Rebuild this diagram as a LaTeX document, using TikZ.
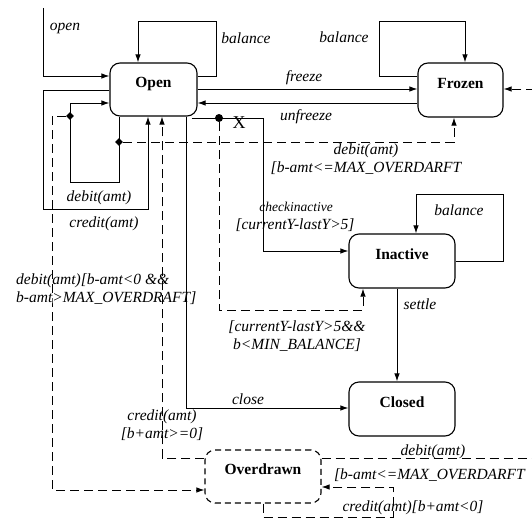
\documentclass[tikz,border=0pt]{standalone}
\usepackage{fontspec}
\setmainfont{Liberation Serif}
\usetikzlibrary{arrows.meta,shapes.geometric,calc}
\begin{document}
\begin{tikzpicture}[x=1pt,y=-1pt,
  state/.style={draw, line width=1.1pt, rounded corners=10pt, inner sep=0pt,
    font=\fontsize{15.5}{18}\selectfont\bfseries, text height=10pt, text depth=14pt},
  conn/.style={line width=1pt},
  arr/.style={conn, -{Latex[length=8pt,width=5.5pt]}},
  darr/.style={arr, dash pattern=on 9pt off 5pt},
  lbl/.style={font=\fontsize{15.5}{18}\selectfont\itshape, inner sep=0pt, text height=11pt, text depth=3.5pt},
  lbltwo/.style={font=\fontsize{15.5}{18}\selectfont\itshape, inner sep=0pt},
  choice/.style={diamond, fill, inner sep=0pt, minimum size=8pt},
  junction/.style={circle, fill, inner sep=0pt, minimum size=8pt}]
\useasboundingbox (0,0) rectangle (532,519);

% states
\node[state, minimum width=87pt, minimum height=53pt] (open) at (153.5,89.5) {Open};
\node[state, minimum width=85pt, minimum height=54pt] (frozen) at (460.5,90) {Frozen};
\node[state, minimum width=106pt, minimum height=54pt] (inactive) at (402,261) {Inactive};
\node[state, minimum width=106pt, minimum height=54pt] (closed) at (402,409) {Closed};
\node[state, dash pattern=on 6pt off 4pt, minimum width=116pt, minimum height=53pt] (overdrawn) at (263,476.5) {Overdrawn};

% choice points
\node[choice] (c1) at (119,142) {};
\node[choice] (c2) at (70,116) {};
\node[junction] (jx) at (219,118) {};
\node[font=\fontsize{18}{20}\selectfont, inner sep=0pt] (xl) at (239,122.5) {X};

% free ends
\coordinate (init) at (43,8);
\coordinate (e1) at (545,458);
\coordinate (e2) at (545,89);

% initial
\draw[arr] (init) |- (open.west |- 0,76);
\node[lbl] (lopen) at (65,27) {open};

% Open self loop
\draw[arr] (open.east |- 0,76) -| (216,22) -| (open.north -| 138,0);
\node[lbl] (lbal1) at (246,40) {balance};

% freeze / unfreeze
\draw[arr] (open.east |- 0,89) -- (frozen.west |- 0,89);
\node[lbl] (lfreeze) at (304,78) {freeze};
\draw[arr] (frozen.west |- 0,103) -- (open.east |- 0,103);
\node[lbl] (lunfreeze) at (306,117) {unfreeze};

% Frozen self loop
\draw[arr] (frozen.west |- 0,76) -| (379,22) -| (frozen.north -| 465,0);
\node[lbl] (lbal2) at (344,39) {balance};

% debit loop (inner)
\draw[arr] (open.south -| 119,0) |- (70,182) |- (open.west |- 0,103);
\node[lbl] (ldebit) at (99,198) {debit(amt)};
% credit loop (outer)
\draw[arr] (open.west |- 0,90) -| (43,209) -| (open.south -| 148,0);
\node[lbl] (lcredit) at (104,224) {credit(amt)};

% c1 -> Frozen
\draw[darr] (c1) -| (frozen.south -| 454,0);
\node[lbltwo, align=center] (ldebfz) at (366,159) {debit(amt)\\{[}b-amt\textless=MAX\_OVERDARFT};

% c2 -> Overdrawn
\draw[darr] (c2) -| (52,300) |- (overdrawn.west |- 0,490);
\node[lbltwo, align=left, anchor=west] (ldebod) at (16,289.5) {debit(amt){[}b-amt\textless0 \&\&\\b-amt\textgreater MAX\_OVERDRAFT{]}};

% Overdrawn -> Open
\draw[darr] (overdrawn.west |- 0,458) -| (open.south -| 162,0);
\node[lbltwo, align=center] (lcredod) at (162,425) {credit(amt)\\{[}b+amt\textgreater=0{]}};

% Open -> Inactive
\draw[arr] ($(open.south east)+(-6,2)$) -| (263,251) -- (inactive.west |- 0,251);
\node[lbl, font=\fontsize{13.5}{16}\selectfont\itshape] (lchk) at (296,208) {checkinactive};
\node[lbl] (lchk2) at (295,226) {{[}currentY-lastY\textgreater5{]}};

% junction -> Inactive
\draw[darr] (jx) |- (363,310) -- (inactive.south -| 363,0);
\node[lbltwo, align=center] (lmin) at (297,336.5) {{[}currentY-lastY\textgreater5\&\&\\b\textless MIN\_BALANCE{]}};

% Inactive self loop
\draw[arr] (inactive.east |- 0,261) -| (503,194) -| (inactive.north -| 416,0);
\node[lbl] (lbal3) at (459,212) {balance};

% settle
\draw[arr] (inactive.south -| 397,0) -- (closed.north -| 397,0);
\node[lbl] (lsettle) at (420,306) {settle};

% close
\draw[arr] (open.south -| 186,0) |- (closed.west |- 0,408);
\node[lbl] (lclose) at (248,401) {close};

% Overdrawn -> Frozen
\draw[darr] (overdrawn.east |- 0,458) -- (e1) -- (e2) -- (frozen.east |- 0,89);
\node[lbl] (ldeb3) at (433,452) {debit(amt)};
\node[lbl, anchor=west] (lmax3) at (334,476) {{[}b-amt\textless=MAX\_OVERDARFT};

% Overdrawn self loop
\draw[darr] (overdrawn.south -| 263,0) |- (393,517) |- (overdrawn.east |- 0,487);
\node[lbl] (lcred3) at (413,508) {credit(amt){[}b+amt\textless0{]}};
\end{tikzpicture}
\end{document}
